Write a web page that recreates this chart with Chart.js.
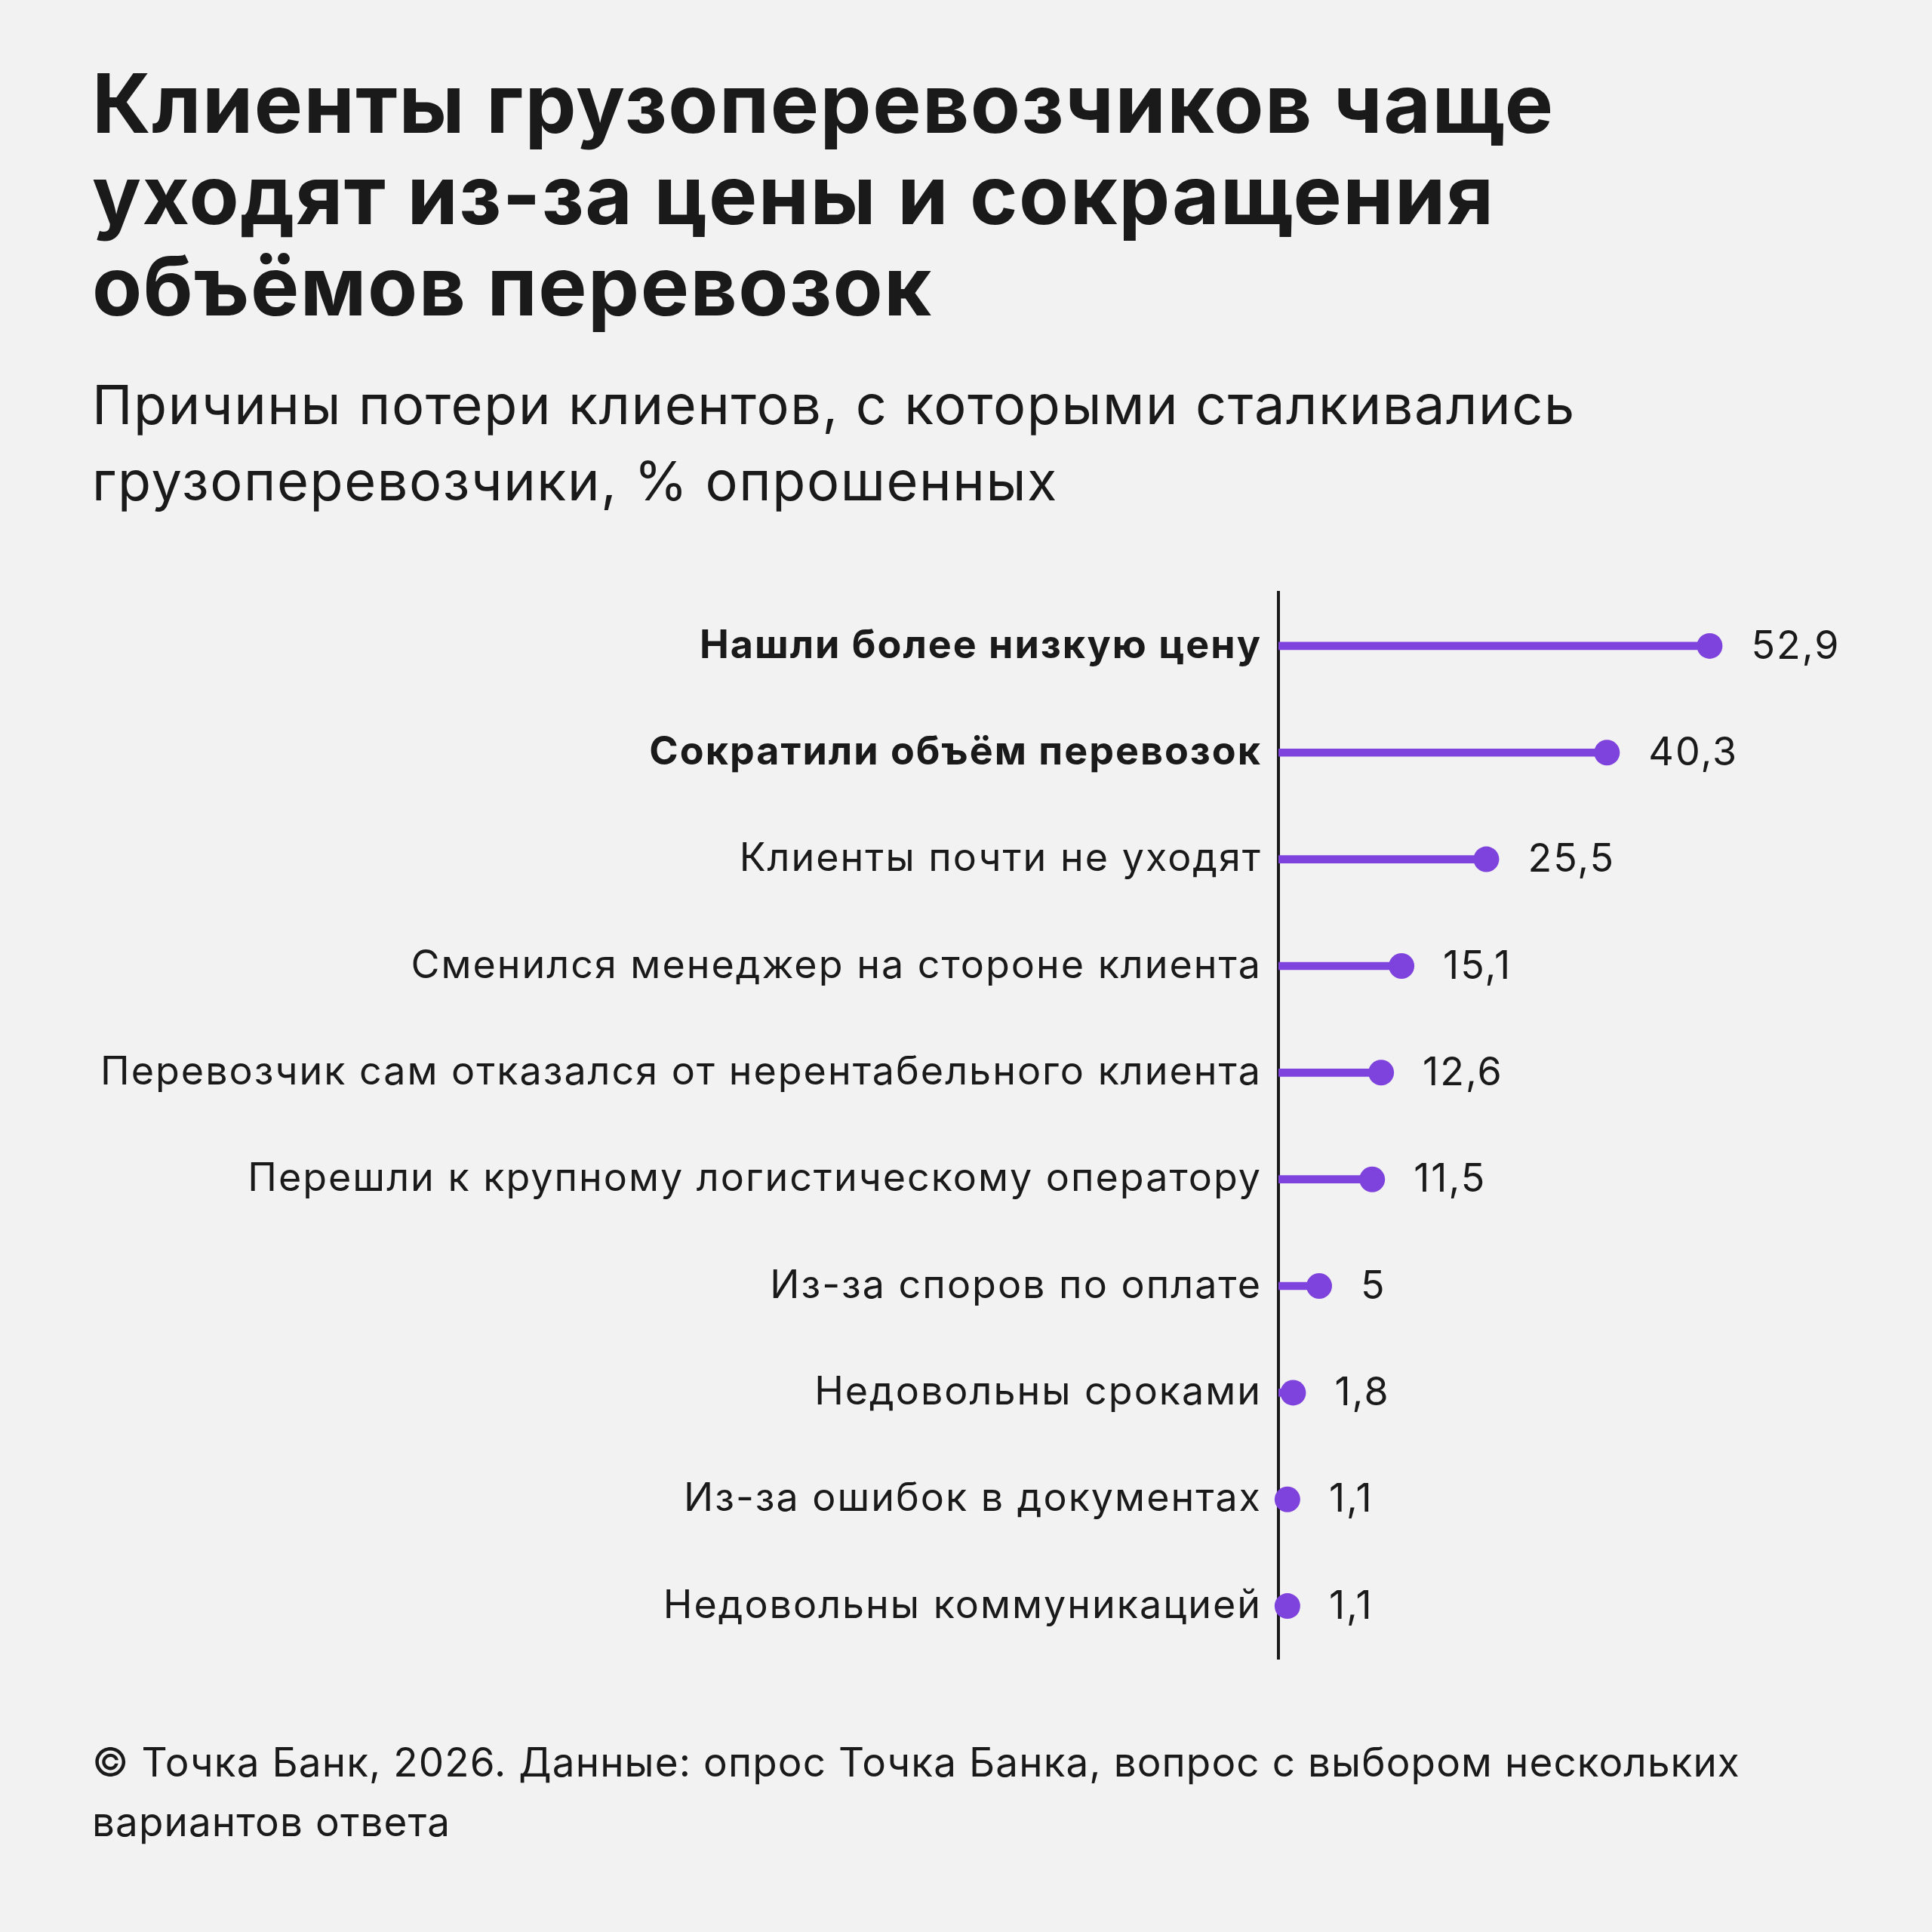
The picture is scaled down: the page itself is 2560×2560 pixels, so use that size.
<!DOCTYPE html>
<html lang="ru">
<head>
<meta charset="utf-8">
<script src="https://cdn.jsdelivr.net/npm/chart.js@4"></script>
<style>
  html, body { margin: 0; padding: 0; background: #f2f2f2; }
  body { width: 2560px; height: 2560px; position: relative; overflow: hidden; font-family: Inter, "Noto Sans", sans-serif; color: #1a1a1a; }
  #title { position: absolute; left: 122px; top: 76px; font-size: 108px; font-weight: 700; line-height: 121px; letter-spacing: 1.5px; }
  #subtitle { position: absolute; left: 122px; top: 485px; font-size: 72px; font-weight: 400; line-height: 101px; letter-spacing: 1.6px; }
  #footer { position: absolute; left: 122px; top: 2296px; font-size: 53px; font-weight: 400; line-height: 79px; letter-spacing: 1.1px; }
  #wrap { position: absolute; left: 0; top: 732px; width: 2560px; height: 1520px; }
</style>
</head>
<body>
<div id="title">Клиенты грузоперевозчиков чаще<br>уходят из-за цены и сокращения<br>объёмов перевозок</div>
<div id="subtitle">Причины потери клиентов, с которыми сталкивались<br>грузоперевозчики, % опрошенных</div>
<div id="wrap"><canvas id="chart"></canvas></div>
<div id="footer">© Точка Банк, 2026. Данные: опрос Точка Банка, вопрос с выбором нескольких<br>вариантов ответа</div>
<script>
const categories = [
  "Нашли более низкую цену",
  "Сократили объём перевозок",
  "Клиенты почти не уходят",
  "Сменился менеджер на стороне клиента",
  "Перевозчик сам отказался от нерентабельного клиента",
  "Перешли к крупному логистическому оператору",
  "Из-за споров по оплате",
  "Недовольны сроками",
  "Из-за ошибок в документах",
  "Недовольны коммуникацией"
];
const shares = [52.9, 40.3, 25.5, 15.1, 12.6, 11.5, 5, 1.8, 1.1, 1.1];
const boldRows = [0, 1];

const purple = "#7f43dd";
const ink = "#1a1a1a";
const axisX = 1694;
const fontFamily = "Inter, 'Noto Sans', sans-serif";

// canvas text is spaced a bit wider, like the html text
const spacing = {
  id: "spacing",
  beforeDraw(chart) { chart.ctx.letterSpacing = "2px"; }
};

const valueLabels = {
  id: "valueLabels",
  afterDatasetsDraw(chart) {
    const meta = chart.getDatasetMeta(1);
    const ctx = chart.ctx;
    ctx.save();
    ctx.font = "400 52px " + fontFamily;
    ctx.fillStyle = ink;
    ctx.textAlign = "left";
    ctx.textBaseline = "middle";
    meta.data.forEach((pt, i) => {
      ctx.fillText(String(shares[i]).replace(".", ","), pt.x + 55, pt.y + 1);
    });
    ctx.restore();
  }
};

new Chart(document.getElementById("chart"), {
  data: {
    labels: categories,
    datasets: [
      {
        type: "bar",
        data: shares,
        backgroundColor: purple,
        barThickness: 10,
        order: 2
      },
      {
        type: "line",
        data: shares,
        showLine: false,
        pointRadius: 17,
        pointHoverRadius: 17,
        pointBackgroundColor: purple,
        pointBorderWidth: 0,
        clip: false,
        order: 1
      }
    ]
  },
  options: {
    indexAxis: "y",
    responsive: true,
    maintainAspectRatio: false,
    animation: false,
    layout: { padding: { top: 50, bottom: 50, left: 0, right: 0 } },
    plugins: { legend: { display: false }, tooltip: { enabled: false } },
    scales: {
      x: { display: false, min: 0, max: 78.6 },
      y: {
        offset: true,
        grid: { display: false, drawTicks: false },
        border: { display: true, color: ink, width: 4 },
        afterFit(scale) { scale.width = axisX; },
        ticks: {
          padding: 22,
          color: ink,
          font: (c) => ({
            family: fontFamily,
            size: 52,
            weight: boldRows.includes(c.index) ? "700" : "400"
          })
        }
      }
    }
  },
  plugins: [spacing, valueLabels]
});
</script>
</body>
</html>
